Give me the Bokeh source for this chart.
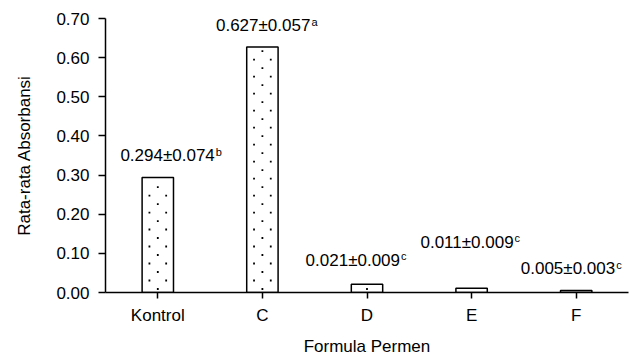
from bokeh.plotting import figure
from bokeh.models import ColumnDataSource, Range1d, FactorRange, FixedTicker, CustomJSTickFormatter
from bokeh.core.properties import value
from bokeh.embed import file_html
from bokeh.resources import INLINE

categories = ["Kontrol", "C", "D", "E", "F"]
means = [0.294, 0.627, 0.021, 0.011, 0.005]
sds = [0.074, 0.057, 0.009, 0.009, 0.003]
letters = ["b", "a", "c", "c", "c"]
label_y = [0.350, 0.682, 0.082, 0.128, 0.061]
label_dx = [57, 48, 33, 42, 39]
y_ticks = [0.0, 0.1, 0.2, 0.3, 0.4, 0.5, 0.6, 0.7]

FONT = "Liberation Sans"
BAR_W = 0.3

main_txt = ["%.3f\u00b1%.3f" % (m, s) for m, s in zip(means, sds)]
src = ColumnDataSource(dict(cat=categories, mean=means, ly=label_y, dx=label_dx,
                            txt=main_txt, sup=letters, sdx=[d + 1 for d in label_dx]))

# dotted fill texture inside each bar (derived from the bar heights)
row_step = 0.0217
col_off = 0.08
dot_x, dot_y = [], []
for i, m in enumerate(means):
    k = 0
    y = 0.009
    while y <= m - 0.005:
        xs = [0.0] if k % 2 == 0 else [-col_off, col_off]
        for dx in xs:
            dot_x.append(i + 0.5 + dx)
            dot_y.append(y)
        k += 1
        y = 0.009 + k * row_step
dots = ColumnDataSource(dict(x=dot_x, y=dot_y))

p = figure(x_range=FactorRange(*categories, range_padding=0), y_range=Range1d(0, 0.70),
           width=630, height=358, output_backend="svg", toolbar_location=None,
           min_border_left=105, min_border_right=2, min_border_top=18, min_border_bottom=66)

p.vbar(x="cat", top="mean", width=BAR_W, source=src, fill_color="white",
       line_color="black", line_width=1.5)
p.scatter(x="x", y="y", source=dots, marker="square", size=1.8,
          fill_color="black", line_color=None)

p.text(x="cat", y="ly", text="txt", source=src, x_offset="dx", text_align="right",
       text_baseline="middle", text_font=value(FONT), text_font_size="17px", text_color="black")
p.text(x="cat", y="ly", text="sup", source=src, x_offset="sdx", y_offset=-4, text_align="left",
       text_baseline="middle", text_font=value(FONT), text_font_size="11px", text_color="black")

p.grid.visible = False
p.outline_line_color = None
p.background_fill_color = "white"

yax = p.yaxis[0]
yax.ticker = FixedTicker(ticks=y_ticks)
yax.formatter = CustomJSTickFormatter(code="return tick.toFixed(2);")
yax.axis_label = "Rata-rata Absorbansi"
yax.major_tick_in = 0
yax.major_tick_out = 7
yax.minor_tick_line_color = None
yax.axis_line_width = 1.5
yax.major_tick_line_width = 1.5
yax.major_label_standoff = 9
yax.axis_label_standoff = 19

xax = p.xaxis[0]
xax.axis_label = "Formula Permen"
xax.major_tick_in = 0
xax.major_tick_out = 6
xax.axis_line_width = 1.5
xax.major_tick_line_width = 1.5
xax.major_label_standoff = 7
xax.axis_label_standoff = 9

for ax in (xax, yax):
    ax.axis_line_color = "black"
    ax.major_tick_line_color = "black"
    ax.major_label_text_font = FONT
    ax.major_label_text_font_size = "17px"
    ax.major_label_text_color = "black"
    ax.axis_label_text_font = FONT
    ax.axis_label_text_font_size = "17px"
    ax.axis_label_text_font_style = "normal"
    ax.axis_label_text_color = "black"

open("out.html", "w").write(file_html(p, INLINE))
